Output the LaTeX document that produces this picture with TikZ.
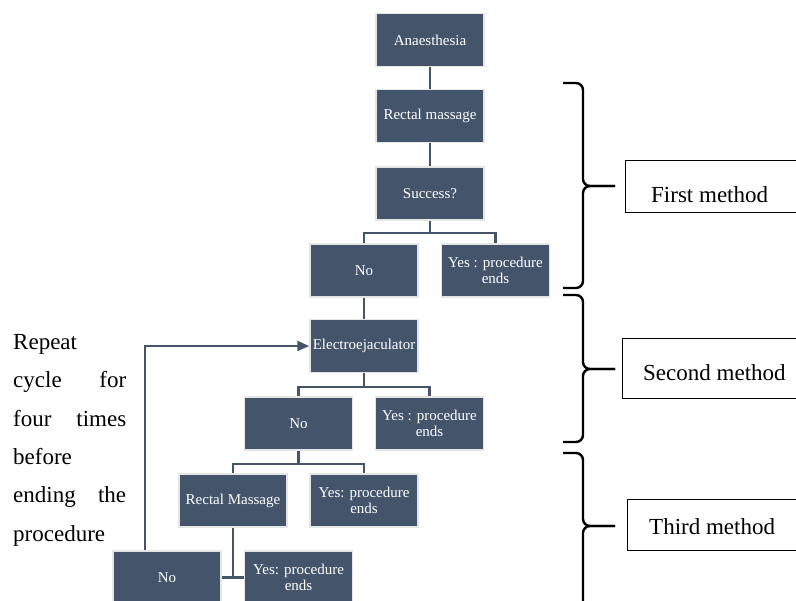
\documentclass[tikz,border=0pt]{standalone}
\usepackage{fontspec}
\setmainfont{Liberation Serif}
\usepackage{xcolor}
\usepackage{tikz}
\usetikzlibrary{arrows.meta}
\definecolor{slatebox}{HTML}{44546A}
\colorlet{boxedge}{gray!20}

\begin{document}
\begin{tikzpicture}[x=1pt, y=-1pt,
    stagebox/.style={fill=slatebox, draw=boxedge, line width=1.5pt, text=white,
        minimum width=108pt, minimum height=53pt, inner sep=2pt, align=center,
        font=\fontsize{15}{16.5}\selectfont},
    link/.style={draw=slatebox, line width=2.2pt},
    methodbox/.style={draw=black, line width=1.1pt, anchor=north west, inner sep=0pt},
    methodtext/.style={anchor=base west, inner sep=0pt, font=\fontsize{23}{26}\selectfont},
    bracket/.style={draw=black, line width=2.4pt, rounded corners=7pt}]
    \useasboundingbox (0,0) rectangle (796,601);
    \clip (0,0) rectangle (796,601);

    \node[stagebox] (anaes) at (430, 40) {Anaesthesia};
    \node[stagebox] (rectal) at (430, 116) {Rectal massage};
    \node[stagebox] (success) at (430, 193.5) {Success?};
    \node[stagebox] (no1) at (364, 270.5) {No};
    \node[stagebox] (yes1) at (495.5, 270.5) {Yes : procedure\\ends};
    \node[stagebox] (elec) at (364, 346) {Electroejaculator};
    \node[stagebox] (no2) at (298.5, 423.5) {No};
    \node[stagebox] (yes2) at (429.5, 423.5) {Yes : procedure\\ends};
    \node[stagebox] (massage) at (233, 500.5) {Rectal Massage};
    \node[stagebox] (yes3) at (364, 500.5) {Yes: procedure\\ends};
    \node[stagebox] (no3) at (167, 577.5) {No};
    \node[stagebox] (yes4) at (298.5, 577.5) {Yes: procedure\\ends};

    \draw[link] (anaes) -- (rectal);
    \draw[link] (rectal) -- (success);
    \draw[link] (success.south) -- ++(0, 12) coordinate (fork1);
    \draw[link] (no1.north) |- (fork1) -| (yes1.north);
    \draw[link] (no1) -- (elec);
    \draw[link] (elec.south) -- ++(0, 14) coordinate (fork2);
    \draw[link] (no2.north) |- (fork2) -| (yes2.north);
    \draw[link] (no2.south) -- ++(0, 13) coordinate (fork3);
    \draw[link] (massage.north) |- (fork3) -| (yes3.north);
    \draw[link] (no3.east) -- (yes4.west);
    \draw[link] (massage.south) -- (massage.south |- yes4.west);
    \draw[link, -{Triangle[length=12pt, width=10pt]}] ([xshift=-22pt]no3.north) |- (elec.west);

    \node[anchor=north west, inner sep=0pt, text width=113pt, align=left,
        font=\fontsize{23}{38.4}\selectfont] (repeat) at (13, 334)
        {Repeat\\
         \leavevmode\hbox to 113pt{cycle\hfill for}\\
         \leavevmode\hbox to 113pt{four\hfill times}\\
         before\\
         \leavevmode\hbox to 113pt{ending\hfill the}\\
         procedure};

    \draw[bracket] (563, 83) -| (583, 186) -- (615, 186);
    \draw[bracket] (563, 288) -| (583, 186) -- (615, 186);
    \draw[bracket] (563, 295) -| (583, 369) -- (615, 369);
    \draw[bracket] (563, 442) -| (583, 369) -- (615, 369);
    \draw[bracket] (563, 453) -| (583, 526) -- (615, 526);
    \draw[bracket] (583, 610) |- (615, 526);

    \node[methodbox, minimum width=180pt, minimum height=52pt] (firstbox) at (625, 160) {};
    \node[methodtext] (first) at (651, 203) {First method};
    \node[methodbox, minimum width=185pt, minimum height=60pt] (secondbox) at (622, 338) {};
    \node[methodtext] (second) at (643, 381) {Second method};
    \node[methodbox, minimum width=180pt, minimum height=51pt] (thirdbox) at (627, 499) {};
    \node[methodtext] (third) at (649, 535) {Third method};
\end{tikzpicture}
\end{document}
